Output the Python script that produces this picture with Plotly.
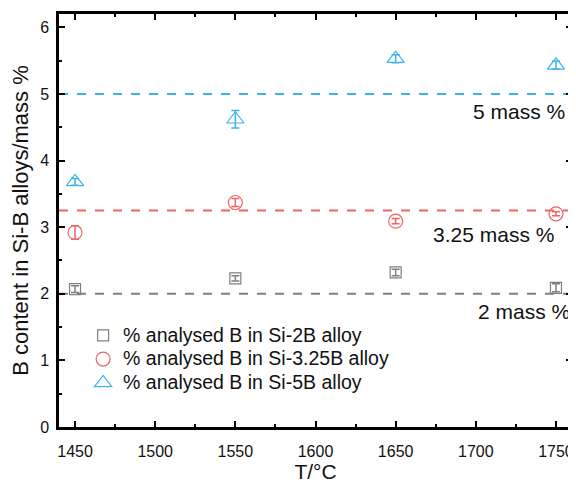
import plotly.graph_objects as go

temps = [1450, 1550, 1650, 1750]
si2b = [2.07, 2.23, 2.32, 2.09]
si2b_err = [0.05, 0.04, 0.05, 0.06]
si325b = [2.92, 3.37, 3.09, 3.20]
si325b_err = [0.10, 0.06, 0.04, 0.03]
si5b = [3.68, 4.62, 5.53, 5.43]
si5b_err = [0.05, 0.13, 0.06, 0.06]

nominal = [2, 3.25, 5]
nominal_labels = ["2 mass %", "3.25 mass %", "5 mass %"]

names = ["% analysed B in Si-2B alloy", "% analysed B in Si-3.25B alloy", "% analysed B in Si-5B alloy"]
colors = ["#7f7f7f", "#f06464", "#3cb2ee"]
symbols = ["square-open", "circle-open", "triangle-up-open"]
sizes = [11, 14, 15]

FONT = "Arial, 'Liberation Sans', sans-serif"

fig = go.Figure()
for ys, errs, name, col, sym, sz in zip([si2b, si325b, si5b], [si2b_err, si325b_err, si5b_err],
                                        names, colors, symbols, sizes):
    fig.add_trace(go.Scatter(
        x=temps, y=ys, mode="markers",
        name='<span style="font-size:19.5px">' + name + '</span>',
        marker=dict(symbol=sym, size=sz, color=col, line=dict(width=1.2, color=col)),
        error_y=dict(type="data", array=errs, visible=True, color=col, thickness=1.5, width=4),
    ))

for v, col in zip(nominal, colors):
    fig.add_shape(type="line", xref="paper", x0=0, x1=1, yref="y", y0=v, y1=v,
                  line=dict(color=col, width=2, dash="dash"), layer="below")

ann_pos = [(1760, 1.73), (1750, 2.89), (1757, 4.74)]
for (ax, ay), txt in zip(ann_pos, nominal_labels):
    fig.add_annotation(x=ax, y=ay, text=txt, showarrow=False, xanchor="right", yanchor="middle",
                       font=dict(size=21, color="#111111", family=FONT))

axis_common = dict(showline=True, linecolor="black", linewidth=2.5, mirror="allticks",
                   ticks="inside", ticklen=6, tickwidth=2, tickcolor="black",
                   showgrid=False, zeroline=False, automargin=False,
                   tickfont=dict(size=16, color="#111111", family=FONT))

fig.update_xaxes(range=[1440, 1760], tickvals=[1450, 1500, 1550, 1600, 1650, 1700, 1750],
                 ticklabelstandoff=8,
                 minor=dict(ticks="inside", ticklen=3, tickwidth=2, tickcolor="black", dtick=25, tick0=1425),
                 title=dict(text="T/°C", font=dict(size=21, color="#111111", family=FONT), standoff=4),
                 **axis_common)
fig.update_yaxes(range=[0, 6.2], tickvals=[0, 1, 2, 3, 4, 5, 6],
                 ticklabelstandoff=4,
                 minor=dict(ticks="inside", ticklen=3, tickwidth=2, tickcolor="black", dtick=0.5, tick0=0),
                 title=dict(text="B content in Si-B alloys/mass %", font=dict(size=22, color="#111111", family=FONT), standoff=10),
                 **axis_common)

# page body has an 8px margin: shrink the figure so the plot area lands where the reference has it
fig.update_layout(
    width=568, height=480,
    margin=dict(l=51, r=4, t=6, b=61),
    paper_bgcolor="white", plot_bgcolor="white",
    font=dict(family=FONT, color="#111111"),
    showlegend=True,
    legend=dict(x=0.047, y=0.263, xanchor="left", yanchor="top", bgcolor="rgba(0,0,0,0)",
                font=dict(size=16, family=FONT, color="#111111"), tracegroupgap=0, itemwidth=30),
)

fig.write_html("out.html")
